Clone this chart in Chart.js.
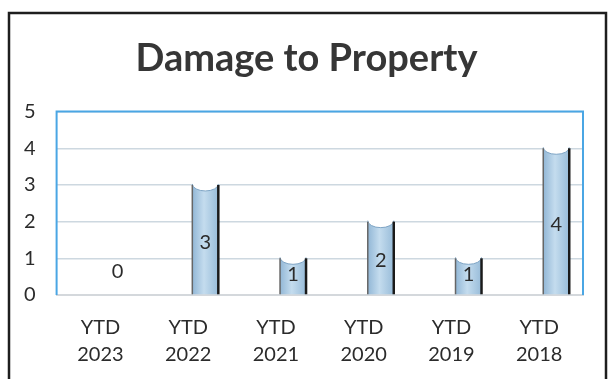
<!DOCTYPE html>
<html>
<head>
<meta charset="utf-8">
<script src="https://cdn.jsdelivr.net/npm/chart.js@4"></script>
<style>
  html, body { margin: 0; padding: 0; background: #fff; }
  #wrap { width: 613px; height: 379px; }
</style>
</head>
<body>
<div id="wrap"><canvas id="damageChart" width="613" height="379"></canvas></div>
<script>
const categories = [['YTD', '2023'], ['YTD', '2022'], ['YTD', '2021'], ['YTD', '2020'], ['YTD', '2019'], ['YTD', '2018']];
const counts = [0, 3, 1, 2, 1, 4];
const emptySeries = [null, null, null, null, null, null];
const yTicks = [0, 1, 2, 3, 4, 5];

const FONT = 'Lato, "Open Sans", sans-serif';

// white page + black frame around the whole chart
const framePlugin = {
    id: 'frame',
    beforeDraw(chart) {
        const c = chart.ctx;
        c.save();
        c.fillStyle = '#fff';
        c.fillRect(0, 0, chart.width, chart.height);
        c.strokeStyle = '#1e1e1e';
        c.lineWidth = 2.5;
        c.strokeRect(9, 13, 597, chart.height + 20);
        c.restore();
    },
    afterDraw(chart) {
        // blue outline of the plot area (top, left, right)
        const a = chart.chartArea;
        const c = chart.ctx;
        c.save();
        c.strokeStyle = '#4aa6e4';
        c.lineWidth = 2;
        c.beginPath();
        c.moveTo(a.left, a.bottom);
        c.lineTo(a.left, a.top);
        c.lineTo(a.right, a.top);
        c.lineTo(a.right, a.bottom);
        c.stroke();
        c.restore();
    }
};

// cylinder-like shading on the bars plus value labels
const cylinderPlugin = {
    id: 'cylinder',
    afterDatasetsDraw(chart) {
        const c = chart.ctx;
        const meta = chart.getDatasetMeta(1);
        meta.data.forEach((bar, i) => {
            const v = counts[i];
            const left = bar.x - bar.width / 2;
            const right = bar.x + bar.width / 2;
            c.save();
            if (v > 0) {
                const g = c.createLinearGradient(left, 0, right, 0);
                g.addColorStop(0, '#92b7d6');
                g.addColorStop(0.45, '#c4dcee');
                g.addColorStop(1, '#98bcd9');
                c.fillStyle = g;
                c.fillRect(left, bar.y, bar.width, bar.base - bar.y);
                // concave top
                c.fillStyle = '#ffffff';
                c.beginPath();
                c.moveTo(left, bar.y - 1);
                c.lineTo(right, bar.y - 1);
                c.ellipse(bar.x, bar.y - 1, bar.width / 2, 7, 0, 0, Math.PI, false);
                c.closePath();
                c.fill();
                c.strokeStyle = '#7fa5c5';
                c.lineWidth = 1;
                c.beginPath();
                c.ellipse(bar.x, bar.y - 1, bar.width / 2, 7, 0, 0, Math.PI, false);
                c.stroke();
                // side edges
                c.strokeStyle = '#666';
                c.lineWidth = 1.5;
                c.beginPath();
                c.moveTo(left, bar.y);
                c.lineTo(left, bar.base);
                c.stroke();
                c.strokeStyle = '#1a1a1a';
                c.lineWidth = 2.5;
                c.beginPath();
                c.moveTo(right, bar.y);
                c.lineTo(right, bar.base);
                c.stroke();
            }
            c.fillStyle = '#2b2b2b';
            c.font = '20px ' + FONT;
            c.textAlign = 'center';
            c.textBaseline = 'middle';
            let ly = bar.base - 23;
            if (v > 0) ly = (bar.y + bar.base) / 2 + (v > 1 ? 3 : -2);
            c.fillText(String(v), bar.x, ly);
            c.restore();
        });
    }
};

new Chart(document.getElementById('damageChart'), {
    type: 'bar',
    data: {
        labels: categories,
        datasets: [
            {
                label: 'spacer',
                data: emptySeries,
                backgroundColor: 'rgba(0,0,0,0)'
            },
            {
                label: 'Damage to Property',
                data: counts,
                backgroundColor: 'rgba(0,0,0,0)',
                borderWidth: 0
            }
        ]
    },
    options: {
        responsive: false,
        animation: false,
        events: [],
        categoryPercentage: 0.78,
        barPercentage: 0.76,
        layout: {
            padding: { left: 3, right: 3, top: 0, bottom: 0 }
        },
        plugins: {
            legend: { display: false },
            tooltip: { enabled: false },
            title: {
                display: true,
                text: 'Damage to Property',
                color: '#363636',
                font: { family: FONT, size: 38, weight: 'bold' },
                padding: { top: 36, bottom: 30 }
            }
        },
        scales: {
            x: {
                grid: { display: false },
                border: { display: true, color: '#d4d8dc', width: 2 },
                ticks: {
                    color: '#2b2b2b',
                    font: { family: FONT, size: 20, lineHeight: 1.35 },
                    padding: 11,
                    maxRotation: 0
                }
            },
            y: {
                min: 0,
                max: 5,
                afterBuildTicks(axis) {
                    axis.ticks = yTicks.map(v => ({ value: v }));
                },
                grid: {
                    color: '#cdd8e0',
                    lineWidth: 1.5,
                    drawTicks: false
                },
                border: { display: false },
                ticks: {
                    color: '#2b2b2b',
                    font: { family: FONT, size: 20 },
                    padding: 21
                }
            },
            // empty right-hand axis, only keeps the plot symmetric under the title
            yRight: {
                position: 'right',
                min: 0,
                max: 5,
                grid: { display: false },
                border: { display: false },
                ticks: { display: false },
                afterFit(axis) {
                    axis.width = 27;
                }
            }
        }
    },
    plugins: [framePlugin, cylinderPlugin]
});
</script>
</body>
</html>
